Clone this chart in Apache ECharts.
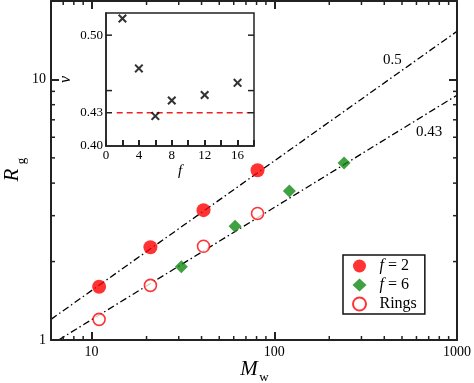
<!DOCTYPE html>
<html><head><meta charset="utf-8">
<script src="https://cdn.jsdelivr.net/npm/echarts@6/dist/echarts.min.js"></script>
<style>
html,body{margin:0;padding:0;background:#fff}
#wrap{position:relative;width:474px;height:383px}
.layer{position:absolute;left:0;top:0;width:474px;height:383px}
</style>
</head><body><div id="wrap">
<div id="main" class="layer"></div>
<div id="ticksA" class="layer"></div>
<div id="ticksB" class="layer"></div>
<div id="inset" class="layer"></div>
</div>
<script>
// ---- data ----
const f2Mw = [11, 21, 41, 81];
const f2Rg = [1.60, 2.27, 3.15, 4.48];
const f6Mw = [31, 61, 121, 241];
const f6Rg = [1.91, 2.73, 3.73, 4.78];
const ringMw = [11, 21, 41, 81];
const ringRg = [1.20, 1.62, 2.29, 3.06];
const line05 = [[6, 1.20], [1000, 15.3]];
const line043 = [[6.6, 1.0], [1000, 8.7]];
const insetF = [2, 4, 6, 8, 12, 16];
const insetNu = [0.515, 0.470, 0.427, 0.441, 0.446, 0.457];
const insetRef = [[1.3, 0.43], [17.3, 0.43]];
const xMajorLabels = [10, 100, 1000];
const xMinor = [7, 8, 9, 20, 30, 40, 50, 60, 70, 80, 90, 200, 300, 400, 500, 600, 700, 800, 900];
const yMajorLabels = [1, 10];
const yMinor = [2, 3, 4, 5, 6, 7, 8, 9];
const insetXLabels = [0, 4, 8, 12, 16];
const insetYLabels = ['0.40', '0.43', '0.50'];
const insetYTicks = [0.43, 0.45, 0.50];

const FF = 'Liberation Serif';
const AX = '#222';
const TW = 2;
const X_RANGE = [6, 1000];
const Y_RANGE = [1, 20];
const IX_RANGE = [0, 18];
const IY_RANGE = [0.40, 0.52];
const MAIN_GRID = { left: 51, top: 1, right: 17, bottom: 43, outerBoundsMode: 'none' };
const zip = (a, b) => a.map((v, i) => [v, b[i]]);

// tick marks drawn through the axes' own scales (api.coord), one side per series
function tickSeries(values, side, len, xr, yr, width) {
  const isX = side === 'b' || side === 't';
  const fixed = side === 'b' ? yr[0] : side === 't' ? yr[1] : side === 'l' ? xr[0] : xr[1];
  return {
    type: 'custom', silent: true, clip: false, z: 9,
    data: values.map(v => isX ? [v, fixed] : [fixed, v]),
    renderItem: (p, api) => {
      const c = api.coord([api.value(0), api.value(1)]);
      let shape;
      if (side === 'b') shape = { x: c[0] - width / 2, y: c[1] - len, width: width, height: len };
      else if (side === 't') shape = { x: c[0] - width / 2, y: c[1], width: width, height: len };
      else if (side === 'l') shape = { x: c[0], y: c[1] - width / 2, width: len, height: width };
      else shape = { x: c[0] - len, y: c[1] - width / 2, width: len, height: width };
      return { type: 'rect', shape: shape, style: { fill: AX } };
    }
  };
}

// ---- layer 1: main content ----
const main = echarts.init(document.getElementById('main'));
main.setOption({
  animation: false,
  backgroundColor: '#fff',
  grid: MAIN_GRID,
  xAxis: {
    type: 'log', position: 'bottom', min: X_RANGE[0], max: X_RANGE[1],
    axisLine: { show: false }, splitLine: { show: false }, axisTick: { show: false },
    axisLabel: { formatter: v => xMajorLabels.indexOf(Math.round(v)) >= 0 ? String(Math.round(v)) : '',
      fontFamily: FF, fontSize: 14, color: '#000', margin: 5 }
  },
  yAxis: {
    type: 'log', position: 'left', min: Y_RANGE[0], max: Y_RANGE[1],
    axisLine: { show: false }, splitLine: { show: false }, axisTick: { show: false },
    axisLabel: { formatter: v => yMajorLabels.indexOf(Math.round(v)) >= 0 ? String(Math.round(v)) : '',
      fontFamily: FF, fontSize: 14, color: '#000', margin: 5 }
  },
  legend: {
    left: 343, top: 255, orient: 'vertical',
    data: ['f2', 'f6', 'Rings'],
    backgroundColor: '#fff', borderColor: '#111', borderWidth: 1.5,
    padding: [3, 8, 2, 9], itemGap: 3, itemWidth: 14, itemHeight: 13,
    formatter: n => ({ f2: '{i|f} = 2', f6: '{i|f} = 6', Rings: 'Rings' })[n],
    textStyle: { fontFamily: FF, fontSize: 16, color: '#000', padding: [0, 0, 0, 8], lineHeight: 14,
      rich: { i: { fontFamily: FF, fontStyle: 'italic', fontSize: 16, color: '#000', lineHeight: 14 } } }
  },
  graphic: [
    { type: 'text', left: 383, top: 53, style: { text: '0.5', font: '15px "Liberation Serif"', fill: '#000' }, z: 10 },
    { type: 'text', left: 416, top: 125, style: { text: '0.43', font: '15px "Liberation Serif"', fill: '#000' }, z: 10 },
    { type: 'text', x: 249, y: 369, style: { text: 'M', font: 'italic 21px "Liberation Serif"', fill: '#000', align: 'center', verticalAlign: 'middle' }, z: 10 },
    { type: 'text', x: 264, y: 378, style: { text: 'w', font: '13px "Liberation Serif"', fill: '#000', align: 'center', verticalAlign: 'middle' }, z: 10 },
    { type: 'text', x: 12, y: 175, rotation: Math.PI / 2, style: { text: 'R', font: 'italic 21px "Liberation Serif"', fill: '#000', align: 'center', verticalAlign: 'middle' }, z: 10 },
    { type: 'text', x: 22, y: 161, rotation: Math.PI / 2, style: { text: 'g', font: '13px "Liberation Serif"', fill: '#000', align: 'center', verticalAlign: 'middle' }, z: 10 }
  ],
  series: [
    { type: 'line', data: line05, showSymbol: false, symbol: 'none', silent: true,
      lineStyle: { color: '#000', width: 1.3, type: [7, 3, 1.5, 3] }, z: 1 },
    { type: 'line', data: line043, showSymbol: false, symbol: 'none', silent: true,
      lineStyle: { color: '#000', width: 1.3, type: [7, 3, 1.5, 3] }, z: 1 },
    { name: 'f2', type: 'scatter', data: zip(f2Mw, f2Rg), symbol: 'circle', symbolSize: 14,
      itemStyle: { color: '#ff0000' }, z: 3 },
    { name: 'f6', type: 'scatter', data: zip(f6Mw, f6Rg), symbol: 'diamond', symbolSize: 13,
      itemStyle: { color: '#118811' }, z: 3 },
    { name: 'Rings', type: 'scatter', data: zip(ringMw, ringRg), symbol: 'circle', symbolSize: 12,
      itemStyle: { color: '#fff', borderColor: '#ff0000', borderWidth: 1.6 }, z: 3 }
  ]
});

// ---- layers 2,3: frame and ticks of the main plot ----
function frameLayer(id, xPos, yPos, xSide, ySide) {
  const ch = echarts.init(document.getElementById(id));
  ch.setOption({
    animation: false,
    grid: MAIN_GRID,
    xAxis: { type: 'log', position: xPos, min: X_RANGE[0], max: X_RANGE[1],
      axisLine: { show: true, lineStyle: { color: AX, width: 2 } },
      axisTick: { show: true, inside: true, length: 8, lineStyle: { color: AX, width: TW } },
      axisLabel: { show: false }, splitLine: { show: false } },
    yAxis: { type: 'log', position: yPos, min: Y_RANGE[0], max: Y_RANGE[1],
      axisLine: { show: true, lineStyle: { color: AX, width: 2 } },
      axisTick: { show: true, inside: true, length: 8, lineStyle: { color: AX, width: TW } },
      axisLabel: { show: false }, splitLine: { show: false } },
    series: [
      tickSeries(xMinor, xSide, 4, X_RANGE, Y_RANGE, 1.5),
      tickSeries(yMinor, ySide, 4, X_RANGE, Y_RANGE, 1.5)
    ]
  });
}
frameLayer('ticksA', 'bottom', 'left', 'b', 'l');
frameLayer('ticksB', 'top', 'right', 't', 'r');

// ---- layer 4: inset ----
const inset = echarts.init(document.getElementById('inset'));
inset.setOption({
  animation: false,
  grid: { left: 106, top: 13, width: 148, height: 133, outerBoundsMode: 'none', show: true, borderColor: AX, borderWidth: 1.5 },
  xAxis: {
    type: 'value', position: 'bottom', min: IX_RANGE[0], max: IX_RANGE[1], interval: 2,
    axisLine: { show: true, lineStyle: { color: AX, width: 1.5 } }, splitLine: { show: false },
    axisTick: { show: true, inside: true, length: 6, lineStyle: { color: AX, width: TW } },
    axisLabel: { formatter: v => insetXLabels.indexOf(v) >= 0 ? String(v) : '', fontFamily: FF, fontSize: 13, color: '#000', margin: 3 },
    name: 'f', nameLocation: 'middle', nameGap: 18,
    nameTextStyle: { fontFamily: FF, fontStyle: 'italic', fontSize: 15, color: '#000' }
  },
  yAxis: {
    type: 'value', position: 'left', min: IY_RANGE[0], max: IY_RANGE[1], interval: 0.01,
    axisLine: { show: true, lineStyle: { color: AX, width: 1.5 } }, splitLine: { show: false }, axisTick: { show: false },
    axisLabel: { formatter: v => insetYLabels.indexOf(v.toFixed(2)) >= 0 ? v.toFixed(2) : '',
      fontFamily: FF, fontSize: 13, color: '#000', margin: 3 },
    name: 'ν', nameLocation: 'middle', nameGap: 32,
    nameTextStyle: { fontFamily: FF, fontStyle: 'italic', fontSize: 16, color: '#000' }
  },
  series: [
    tickSeries(insetYTicks, 'l', 6, IX_RANGE, IY_RANGE, 1.5),
    tickSeries(insetYTicks, 'r', 6, IX_RANGE, IY_RANGE, 1.5),
    { type: 'line', data: insetRef, showSymbol: false, symbol: 'none', silent: true,
      lineStyle: { color: '#ee2222', width: 1.5, type: [6, 4] }, z: 6 },
    { type: 'scatter', data: zip(insetF, insetNu),
      symbol: 'path://M0,1.6L1.6,0L5,3.4L8.4,0L10,1.6L6.6,5L10,8.4L8.4,10L5,6.6L1.6,10L0,8.4L3.4,5Z',
      symbolSize: 9, itemStyle: { color: '#000' }, z: 7 }
  ]
});
</script>
</body></html>
